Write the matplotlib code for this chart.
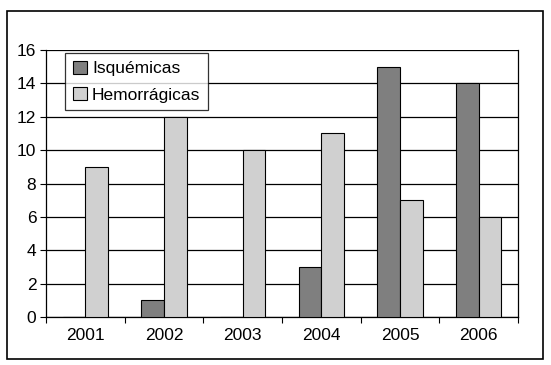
import numpy as np
import matplotlib.pyplot as plt
from matplotlib.patches import Rectangle
from matplotlib import font_manager

# Datos
anios = ["2001", "2002", "2003", "2004", "2005", "2006"]
isquemicas = [0, 1, 0, 3, 15, 14]
hemorragicas = [9, 12, 10, 11, 7, 6]

fam = "Liberation Sans Narrow"
try:
    font_manager.findfont(fam, fallback_to_default=False)
except Exception:
    fam = "Liberation Sans"
plt.rcParams["font.family"] = [fam, "DejaVu Sans"]

fig = plt.figure(figsize=(5.51, 3.65), dpi=100)
ax = fig.add_axes([46 / 551, 1 - 317 / 365, 472 / 551, 267 / 365])

# marco exterior
fig.patches.append(Rectangle((7 / 551, 1 - 359 / 365), 536 / 551, 348 / 365,
                             transform=fig.transFigure, fill=False,
                             edgecolor="black", linewidth=1.2))

x = np.arange(len(anios))
w = 0.29
ax.bar(x - w / 2, isquemicas, w, color="#7f7f7f", edgecolor="black",
       linewidth=0.8, label="Isquémicas", zorder=3)
ax.bar(x + w / 2, hemorragicas, w, color="#d0d0d0", edgecolor="black",
       linewidth=0.8, label="Hemorrágicas", zorder=3)

ax.set_xlim(-0.5, len(anios) - 0.5)
ax.set_ylim(0, 16)
ax.set_yticks(range(0, 17, 2))
ax.yaxis.grid(True, color="black", linewidth=0.9, zorder=0)
ax.set_axisbelow(True)

ax.set_xticks(x)
ax.set_xticklabels(anios)
ax.set_xticks(np.arange(-0.5, len(anios)), minor=True)
ax.tick_params(axis="x", which="major", length=0, labelsize=12.5, pad=8)
ax.tick_params(axis="x", which="minor", length=4, width=0.8, direction="out")
ax.tick_params(axis="y", length=4, width=0.8, labelsize=12.5, pad=3)

ax.spines["top"].set_visible(False)
for s in ["left", "right", "bottom"]:
    ax.spines[s].set_linewidth(0.9)

leg = ax.legend(loc="upper left", bbox_to_anchor=(19 / 472, 1 - 3 / 267),
                fontsize=12.5, frameon=True, fancybox=False, edgecolor="black",
                handlelength=0.8, handleheight=0.8, handletextpad=0.3,
                borderpad=0.45, labelspacing=0.6, borderaxespad=0)
leg.get_frame().set_linewidth(0.9)

fig.savefig("out.png", dpi=100)
